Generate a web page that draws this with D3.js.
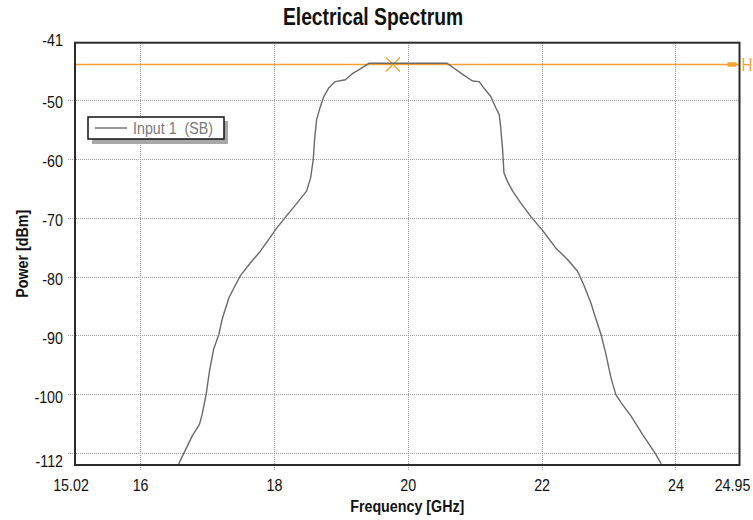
<!DOCTYPE html>
<html>
<head>
<meta charset="utf-8">
<script src="https://cdn.jsdelivr.net/npm/d3@7"></script>
<style>
  html, body { margin: 0; padding: 0; background: #fff; }
  svg { display: block; }
  text { font-family: "Liberation Sans", Arial, sans-serif; white-space: pre; }
</style>
</head>
<body>
<svg id="chart" width="753" height="520"></svg>
<script>
// ---------- data ----------
const freqGHz = [16.57, 16.77, 16.88, 16.92, 16.98, 17.03, 17.09, 17.17, 17.22, 17.32, 17.42, 17.49, 17.64, 17.79, 17.94, 18.02, 18.16, 18.34, 18.48, 18.54, 18.58, 18.60, 18.63, 18.68, 18.74, 18.81, 18.91, 19.06, 19.16, 19.29, 19.41, 20.58, 20.68, 20.83, 20.96, 21.06, 21.13, 21.23, 21.31, 21.36, 21.38, 21.41, 21.43, 21.48, 21.56, 21.68, 21.83, 22.01, 22.20, 22.38, 22.53, 22.63, 22.73, 22.79, 22.88, 22.95, 23.03, 23.10, 23.18, 23.33, 23.50, 23.60, 23.70, 23.78];
const powerDBm = [-111.8, -107.1, -105.1, -103.4, -100.0, -96.0, -92.4, -89.8, -87.2, -83.6, -81.4, -79.9, -77.7, -75.7, -73.3, -72.0, -70.0, -67.5, -65.5, -63.3, -60.2, -56.8, -53.4, -51.4, -49.4, -48.0, -46.9, -46.6, -45.6, -44.7, -43.8, -43.8, -44.6, -45.8, -46.8, -46.9, -48.0, -49.4, -51.4, -52.5, -54.5, -58.5, -62.4, -63.8, -65.5, -67.5, -69.8, -72.2, -75.1, -77.1, -79.1, -81.6, -84.5, -86.7, -89.8, -93.0, -97.2, -100.0, -101.4, -103.7, -106.8, -108.5, -110.2, -111.8];

const xDomain = [15.02, 24.95];
const yDomain = [-112, -40.3];
const xGridValues = [16, 18, 20, 22, 24];
const yGridValues = [-110, -100, -90, -80, -70, -60, -50];
const xTickValues = [15.02, 16, 18, 20, 22, 24, 24.95];
const xTickLabels = ["15.02", "16", "18", "20", "22", "24", "24.95"];
const yTickValues = [-112, -100, -90, -80, -70, -60, -50, -40.3];
const yTickLabels = ["-112", "-100", "-90", "-80", "-70", "-60", "-50", "-41"];
const markerLevel = -44.0;
const markerFreq = 19.77;
const seriesName = "Input 1  (SB)";
const titleText = "Electrical Spectrum";
const xTitle = "Frequency [GHz]";
const yTitle = "Power [dBm]";

// ---------- layout ----------
const L = 75, R = 739.5, T = 42.7, B = 465;
const SX = 0.84; // horizontal condensing of the font
const svg = d3.select("#chart");
const x = d3.scaleLinear().domain(xDomain).range([L, R]);
const y = d3.scaleLinear().domain(yDomain).range([B, T]);

const orange = "#F5A030";
const textCol = "#111";

function label(parent, px, py, s, o) {
  o = o || {};
  return parent.append("text")
    .attr("transform", `translate(${px},${py})${o.rotate ? " rotate(" + o.rotate + ")" : ""} scale(${SX},1)`)
    .attr("text-anchor", o.anchor || "middle")
    .attr("dy", o.dy || null)
    .attr("font-size", o.size || 17)
    .attr("font-weight", o.bold ? "bold" : null)
    .attr("fill", o.fill || textCol)
    .text(s);
}

// grid
svg.append("g").selectAll("line").data(xGridValues).join("line")
  .attr("x1", d => x(d)).attr("x2", d => x(d))
  .attr("y1", T).attr("y2", B + 5)
  .attr("stroke", "#9a9a9a").attr("stroke-width", 1).attr("stroke-dasharray", "1,1")
  .attr("shape-rendering", "crispEdges");
svg.append("g").selectAll("line").data(yGridValues).join("line")
  .attr("x1", L - 7).attr("x2", R)
  .attr("y1", d => Math.round(y(d)) + 0.5).attr("y2", d => Math.round(y(d)) + 0.5)
  .attr("stroke", "#9a9a9a").attr("stroke-width", 1).attr("stroke-dasharray", "1,1");

// clip
svg.append("defs").append("clipPath").attr("id", "plotclip")
  .append("rect").attr("x", L).attr("y", T).attr("width", R - L).attr("height", B - T);

// marker line
svg.append("line")
  .attr("x1", L).attr("x2", R).attr("y1", y(markerLevel)).attr("y2", y(markerLevel))
  .attr("stroke", orange).attr("stroke-width", 1.6);
const mx = x(markerFreq), my = y(markerLevel), ms = 7;
svg.append("path")
  .attr("d", `M${mx - ms},${my - ms}L${mx + ms},${my + ms}M${mx - ms},${my + ms}L${mx + ms},${my - ms}`)
  .attr("stroke", orange).attr("stroke-width", 1.2).attr("fill", "none");
svg.append("rect")
  .attr("x", R - 12).attr("y", my - 2.2).attr("width", 9).attr("height", 4.4)
  .attr("fill", orange);
label(svg, R + 2, my, "H", { anchor: "start", dy: "0.36em", size: 18, fill: orange });

// series line
const line = d3.line().x(d => x(d[0])).y(d => y(d[1]));
svg.append("path")
  .datum(freqGHz.map((f, i) => [f, powerDBm[i]]))
  .attr("clip-path", "url(#plotclip)")
  .attr("d", line)
  .attr("fill", "none").attr("stroke", "#6a6a6a").attr("stroke-width", 1.4)
  .attr("stroke-linejoin", "round");

// frame
svg.append("rect").attr("x", L).attr("y", T).attr("width", R - L).attr("height", B - T)
  .attr("fill", "none").attr("stroke", "#2b2b2b").attr("stroke-width", 2);

// tick labels
const gx = svg.append("g");
xTickValues.forEach((d, i) => {
  const off = i === 0 ? -4 : (i === xTickValues.length - 1 ? -7 : 0);
  label(gx, x(d) + off, B + 26, xTickLabels[i]);
});
const gy = svg.append("g");
yTickValues.forEach((d, i) => {
  const off = i === 0 ? -3.5 : (i === yTickValues.length - 1 ? -3 : 2.5);
  label(gy, L - 12, y(d) + off, yTickLabels[i], { anchor: "end", dy: "0.35em" });
});

// titles
label(svg, 373, 25, titleText, { size: 23, bold: true });
label(svg, (L + R) / 2, 512, xTitle, { bold: true });
label(svg, 28, (T + B) / 2, yTitle, { bold: true, rotate: -90 });

// legend
const lg = svg.append("g");
lg.append("rect").attr("x", 92).attr("y", 121).attr("width", 136).attr("height", 23).attr("fill", "#a8a8a8");
lg.append("rect").attr("x", 88).attr("y", 117).attr("width", 136).attr("height", 22)
  .attr("fill", "#fff").attr("stroke", "#111").attr("stroke-width", 1.5);
lg.append("line").attr("x1", 95).attr("x2", 127).attr("y1", 128).attr("y2", 128)
  .attr("stroke", "#6a6a6a").attr("stroke-width", 1.4);
label(lg, 133, 128, seriesName, { anchor: "start", dy: "0.36em", fill: "#7a7a7a" });
</script>
</body>
</html>
